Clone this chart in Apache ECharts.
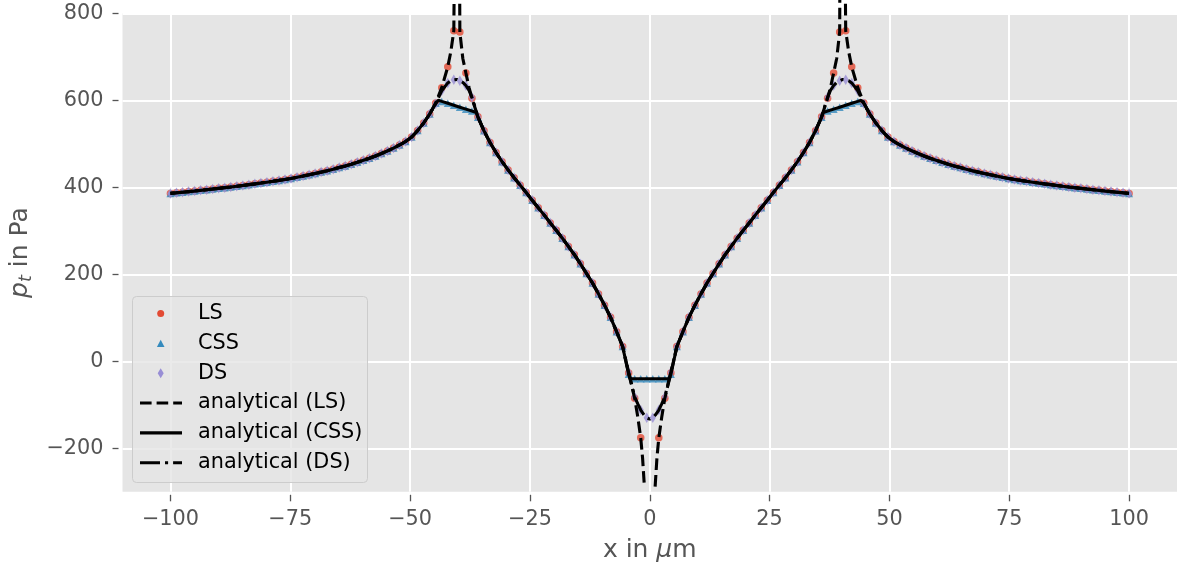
<!DOCTYPE html>
<html><head><meta charset="utf-8">
<script src="https://cdn.jsdelivr.net/npm/echarts@6/dist/echarts.min.js"></script>
<style>html,body{margin:0;padding:0;background:#fff}#c{width:1177px;height:569px}</style>
</head><body><div id="c"></div>
<script>
// ---- data ----
const xTicks = [-100, -75, -50, -25, 0, 25, 50, 75, 100];
const yTicks = [-200, 0, 200, 400, 600, 800];
const seriesNames = ['LS', 'CSS', 'DS', 'analytical (LS)', 'analytical (CSS)', 'analytical (DS)'];
// sample positions of the markers: 160 evenly spaced points from -100 to 100
const nPts = 160;
const xGrid = Array.from({length: nPts}, (_, i) => -100 + i * 200 / (nPts - 1));

const lsVals = [
386,387.3,388.7,390.1,391.5,393.0,394.5,396.0,397.6,399.2,
400.8,402.5,404.3,406.1,407.9,409.8,411.8,413.8,415.9,418.1,
420.3,423.0,425.8,428.7,431.8,434.9,438.2,441.7,445.3,449.2,
453.2,457.5,462.0,466.8,472.0,477.6,483.6,490.1,497.3,505.3,
515.4,530.4,547.8,568.5,594,629,677,760,757,663,
605,562,530,503,480,459,440,422,405,388,
370,353,336,318,301,283,264,245,224,202,
180,155,129,101,68,34,-27,-85,-176,-400,
-400,-176,-85,-27,34,68,101,129,155,180,
202,224,245,264,283,301,318,336,353,370,
388,405,422,440,459,480,503,530,562,605,
663,757,760,677,629,594,568.5,547.8,530.4,515.4,
505.3,497.3,490.1,483.6,477.6,472.0,466.8,462.0,457.5,453.2,
449.2,445.3,441.7,438.2,434.9,431.8,428.7,425.8,423.0,420.3,
418.1,415.9,413.8,411.8,409.8,407.9,406.1,404.3,402.5,400.8,
399.2,397.6,396.0,394.5,393.0,391.5,390.1,388.7,387.3,386];

const cssVals = [
386,387.3,388.7,390.1,391.5,393.0,394.5,396.0,397.6,399.2,
400.8,402.5,404.3,406.1,407.9,409.8,411.8,413.8,415.9,418.1,
420.3,423.0,425.8,428.7,431.8,434.9,438.2,441.7,445.3,449.2,
453.2,457.5,462.0,466.8,472.0,477.6,483.6,490.1,497.3,505.3,
515.4,530.4,547.8,568.5,593,597.5,593.1,588.6,584.2,579.7,
575.2,561,530,503,480,459,440,422,405,388,
370,353,336,318,301,283,264,245,224,202,
180,155,129,101,68,34,-30,-40,-40,-40,
-40,-40,-40,-30,34,68,101,129,155,180,
202,224,245,264,283,301,318,336,353,370,
388,405,422,440,459,480,503,530,561,575.2,
579.7,584.2,588.6,593.1,597.5,593,568.5,547.8,530.4,515.4,
505.3,497.3,490.1,483.6,477.6,472.0,466.8,462.0,457.5,453.2,
449.2,445.3,441.7,438.2,434.9,431.8,428.7,425.8,423.0,420.3,
418.1,415.9,413.8,411.8,409.8,407.9,406.1,404.3,402.5,400.8,
399.2,397.6,396.0,394.5,393.0,391.5,390.1,388.7,387.3,386];

const dsVals = [
386,387.3,388.7,390.1,391.5,393.0,394.5,396.0,397.6,399.2,
400.8,402.5,404.3,406.1,407.9,409.8,411.8,413.8,415.9,418.1,
420.3,423.0,425.8,428.7,431.8,434.9,438.2,441.7,445.3,449.2,
453.2,457.5,462.0,466.8,472.0,477.6,483.6,490.1,497.3,505.3,
515.4,530.4,547.8,568.5,592,622,640,647,645,634,
607,562,530,503,480,459,440,422,405,388,
370,353,336,318,301,283,264,245,224,202,
180,155,129,101,68,34,-25,-82,-112,-130,
-130,-112,-82,-25,34,68,101,129,155,180,
202,224,245,264,283,301,318,336,353,370,
388,405,422,440,459,480,503,530,562,607,
634,645,647,640,622,592,568.5,547.8,530.4,515.4,
505.3,497.3,490.1,483.6,477.6,472.0,466.8,462.0,457.5,453.2,
449.2,445.3,441.7,438.2,434.9,431.8,428.7,425.8,423.0,420.3,
418.1,415.9,413.8,411.8,409.8,407.9,406.1,404.3,402.5,400.8,
399.2,397.6,396.0,394.5,393.0,391.5,390.1,388.7,387.3,386];

// extra points of the analytical curves near the singular regions (null = break)
const lsExtraX = [-41.5,-40.8,-40.2,-39.66,-39.0,-37.7,-2.5,-1.5,-1.12,0,1.12,1.5,2.5,37.7,39.0,39.66,40.2,40.8,41.5];
const lsExtraY = [712,860,null,860,696,629,-128,-222,-288,null,-288,-222,-128,629,696,860,null,860,712];
const cssExtraX = [-44.1,-36.2,-4.1,4.1,36.2,44.1];
const cssExtraY = [600,572,-40,-40,572,600];
const dsExtraX = [-44.0,-42.7,-41.5,-40.25,-39.0,-37.7,-36.5,-2.5,-1.2,0,1.2,2.5,36.5,37.7,39.0,40.25,41.5,42.7,44.0];
const dsExtraY = [608,632,645,648,641,623,586,-98,-123,-133,-123,-98,586,623,641,648,645,632,608];

// ---- build ----
const FONT = 'DejaVu Sans';
const colors = ['#E24A33', '#348ABD', '#988ED5'];
function buildLine(vals, ex, ey, lo) {
  const pts = [];
  for (let i = 0; i < xGrid.length; i++) if (vals[i] >= lo) pts.push([xGrid[i], vals[i]]);
  for (let j = 0; j < ex.length; j++) pts.push([ex[j], ey[j] === null ? '-' : ey[j]]);
  pts.sort((a, b) => a[0] - b[0]);
  return pts;
}
const toPts = vals => xGrid.map((x, i) => [x, vals[i]]);
const fmt = v => (v < 0 ? '\u2212' + Math.abs(v) : String(v));

const gridL = 122.4, gridT = 13.3, gridW = 1058.2, gridH = 478.5;
const LW = 3.1;
const dashLS = [11.6, 5];
const dashDS = [20, 5, 3.1, 5];

// legend (drawn as graphics)
const legX0 = 140, legX1 = 182, legMk = 160.7, legTx = 198;
const rowY = [313.5, 343.35, 373.2, 403.05, 432.9, 462.75];
const legend = [
  {type: 'rect', shape: {x: 132.5, y: 296.5, width: 235, height: 186, r: 4},
   style: {fill: 'rgba(229,229,229,0.8)', stroke: '#CCCCCC', lineWidth: 1}},
  {type: 'circle', shape: {cx: legMk, cy: rowY[0], r: 3.5}, style: {fill: colors[0]}},
  {type: 'polygon', shape: {points: [[legMk, rowY[1] - 3.6], [legMk + 3.8, rowY[1] + 3.6], [legMk - 3.8, rowY[1] + 3.6]]}, style: {fill: colors[1]}},
  {type: 'polygon', shape: {points: [[legMk, rowY[2] - 5], [legMk + 3, rowY[2]], [legMk, rowY[2] + 5], [legMk - 3, rowY[2]]]}, style: {fill: colors[2]}},
  {type: 'line', shape: {x1: legX0, y1: rowY[3], x2: legX1, y2: rowY[3]}, style: {stroke: '#000', lineWidth: LW, lineDash: dashLS}},
  {type: 'line', shape: {x1: legX0, y1: rowY[4], x2: legX1, y2: rowY[4]}, style: {stroke: '#000', lineWidth: LW}},
  {type: 'line', shape: {x1: legX0, y1: rowY[5], x2: legX1, y2: rowY[5]}, style: {stroke: '#000', lineWidth: LW, lineDash: dashDS}}
];
seriesNames.forEach((n, k) => legend.push({
  type: 'text', x: legTx, y: rowY[k],
  style: {text: n, fill: '#000', font: '20.8px "' + FONT + '"', verticalAlign: 'middle', align: 'left'}
}));

const axisLabelStyle = {color: '#555555', fontSize: 20.8, fontFamily: FONT};

const option = {
  animation: false,
  backgroundColor: '#ffffff',
  grid: {left: gridL, top: gridT, width: gridW, height: gridH, show: true,
         backgroundColor: '#E5E5E5', borderWidth: 0, containLabel: false},
  xAxis: {
    type: 'value', min: -110, max: 110, offset: 3, position: 'bottom',
    axisLine: {show: false, onZero: false},
    axisTick: {show: true, length: 6.5, customValues: xTicks, lineStyle: {color: '#555555', width: 1.3}},
    axisLabel: Object.assign({customValues: xTicks, margin: 14, formatter: fmt}, axisLabelStyle),
    splitLine: {show: true, lineStyle: {color: '#ffffff', width: 2}},
    name: '{n|x in }{it|\u03bc}{n|m}', nameLocation: 'middle', nameGap: 43,
    nameTextStyle: {color: '#555555', fontFamily: FONT, fontSize: 25,
      rich: {n: {fontSize: 25, fontFamily: FONT, color: '#555555'},
             it: {fontSize: 25, fontFamily: FONT, fontStyle: 'italic', color: '#555555'}}}
  },
  yAxis: {
    type: 'value', min: -300, max: 800, offset: 4, position: 'left',
    axisLine: {show: false, onZero: false},
    axisTick: {show: true, length: 6, customValues: yTicks, lineStyle: {color: '#555555', width: 1.3}},
    axisLabel: Object.assign({customValues: yTicks, margin: 15, formatter: fmt}, axisLabelStyle),
    splitLine: {show: true, lineStyle: {color: '#ffffff', width: 2}},
    name: '{it|p}{sub|t}{n| in Pa}', nameLocation: 'middle', nameRotate: 90, nameGap: 80,
    nameTextStyle: {color: '#555555', fontFamily: FONT, fontSize: 25,
      rich: {n: {fontSize: 25, fontFamily: FONT, color: '#555555'},
             it: {fontSize: 25, fontFamily: FONT, fontStyle: 'italic', color: '#555555'},
             sub: {fontSize: 17.5, fontFamily: FONT, fontStyle: 'italic', color: '#555555', padding: [12, 0, 0, 0]}}}
  },
  series: [
    {type: 'scatter', name: seriesNames[0], data: toPts(lsVals), symbol: 'circle', symbolSize: 7.5,
     itemStyle: {color: colors[0]}, silent: true, z: 2},
    {type: 'scatter', name: seriesNames[1], data: toPts(cssVals), symbol: 'triangle', symbolSize: [8, 7.5],
     itemStyle: {color: colors[1]}, silent: true, z: 2},
    {type: 'scatter', name: seriesNames[2], data: toPts(dsVals), symbol: 'diamond', symbolSize: [6.2, 10.5],
     itemStyle: {color: colors[2]}, silent: true, z: 2},
    {type: 'line', name: seriesNames[3], data: buildLine(lsVals, lsExtraX, lsExtraY, -300),
     symbol: 'none', showSymbol: false, clip: false, silent: true, z: 3, connectNulls: false,
     lineStyle: {color: '#000', width: LW, type: dashLS, cap: 'butt'}},
    {type: 'line', name: seriesNames[4], data: buildLine(cssVals, cssExtraX, cssExtraY, -1e9),
     symbol: 'none', showSymbol: false, silent: true, z: 3,
     lineStyle: {color: '#000', width: LW, type: 'solid'}},
    {type: 'line', name: seriesNames[5], data: buildLine(dsVals, dsExtraX, dsExtraY, -1e9),
     symbol: 'none', showSymbol: false, silent: true, z: 3,
     lineStyle: {color: '#000', width: LW, type: dashDS, cap: 'butt'}}
  ],
  graphic: {elements: legend.map(e => Object.assign({z: 100}, e))}
};
const chart = echarts.init(document.getElementById('c'), null, {renderer: 'canvas'});
chart.setOption(option);
</script></body></html>
